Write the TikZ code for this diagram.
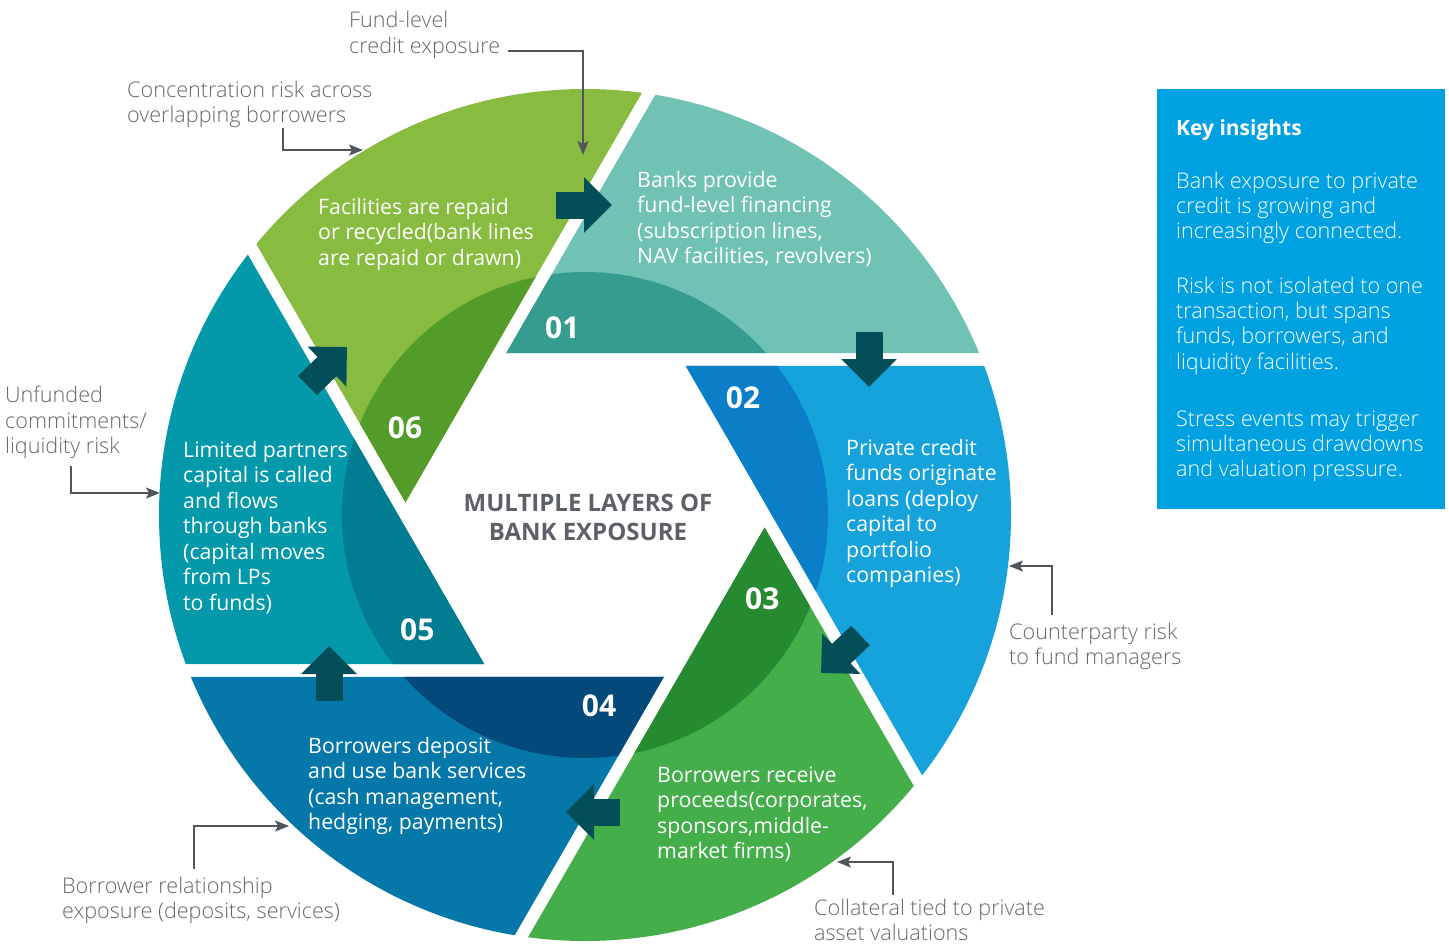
\documentclass[tikz,border=0pt]{standalone}
\usepackage{fontspec}
\setmainfont{Open Sans}
\newfontfamily\lightfont{Open Sans Light}
\usetikzlibrary{arrows.meta}

% segment palette (outer band / inner band)
\definecolor{segAout}{HTML}{70C2B4}\definecolor{segAin}{HTML}{369C90}
\definecolor{segBout}{HTML}{16A3DC}\definecolor{segBin}{HTML}{0A7FC7}
\definecolor{segCout}{HTML}{44AE4A}\definecolor{segCin}{HTML}{268A30}
\definecolor{segDout}{HTML}{0577A9}\definecolor{segDin}{HTML}{03497A}
\definecolor{segEout}{HTML}{0499AA}\definecolor{segEin}{HTML}{027C90}
\definecolor{segFout}{HTML}{88BC41}\definecolor{segFin}{HTML}{549C29}
\definecolor{flowdark}{HTML}{034E58}
\definecolor{titlegray}{HTML}{5D6167}
\definecolor{notegray}{HTML}{63676D}
\definecolor{linegray}{HTML}{50555C}
\definecolor{keyblue}{HTML}{00A1E0}

\begin{document}
\begin{tikzpicture}[x=1pt,y=-1pt,
  % multi-line nodes are placed by the baseline of their last line
  segtext/.style={anchor=base west,inner sep=0pt,align=left,text=white,
    font=\fontsize{21.3}{25.5}\selectfont},
  stepnum/.style={anchor=base west,inner sep=0pt,text=white,
    font=\fontsize{30}{30}\selectfont\bfseries},
  notetext/.style={anchor=base west,inner sep=0pt,align=left,text=notegray,
    font=\lightfont\fontsize{21.6}{25.3}\selectfont},
  keytext/.style={anchor=base west,inner sep=0pt,align=left,text=white,
    font=\lightfont\fontsize{21.6}{25.3}\selectfont},
  annot/.style={draw=linegray,line width=1.3pt,
    -{Stealth[length=14pt,width=11pt,inset=3pt]}},
  flow/.style={draw=flowdark,line width=27pt,
    -{Triangle[length=28pt,width=54pt]}},
]
\useasboundingbox (0,0) rectangle (1449,948);

% ring of six 60-degree wedges, each with a darker inner band
\begin{scope}[shift={(585,515)},yscale=-1]
  \clip (0,0) circle (426);
  \foreach \k/\outer/\inner in {0/segAout/segAin,1/segBout/segBin,2/segCout/segCin,
                                 3/segDout/segDin,4/segEout/segEin,5/segFout/segFin}{
    \pgfmathsetmacro\th{116-60*\k}
    \pgfmathsetmacro\be{-60*\k}
    \pgfmathsetmacro\ga{120-60*\k}
    \fill[\outer] (\th:180) -- ++(\be:900) -- ++(\ga:900) -- cycle;
    \begin{scope}
      \clip (0,0) circle (243);
      \fill[\inner] (\th:180) -- ++(\be:900) -- ++(\ga:900) -- cycle;
    \end{scope}
  }
\end{scope}

% flow arrows between the stages
\coordinate (fa1) at (556,205);     \coordinate (fb1) at (612,205);
\coordinate (fa2) at (869,332);     \coordinate (fb2) at (869,387);
\coordinate (fa3) at (860.5,635.5); \coordinate (fb3) at (821,673);
\coordinate (fa4) at (620,812);     \coordinate (fb4) at (566,812);
\coordinate (fa5) at (329,701);     \coordinate (fb5) at (329,646);
\coordinate (fa6) at (307.5,385.5); \coordinate (fb6) at (347,347);
\foreach \i in {1,...,6}{\draw[flow] (fa\i) -- (fb\i);}

% stage numbers
\node[stepnum] (n1) at (545,338) {01};
\node[stepnum] (n2) at (725.7,408.3) {02};
\node[stepnum] (n3) at (745,609.3) {03};
\node[stepnum] (n4) at (581.7,716.7) {04};
\node[stepnum] (n5) at (400,640) {05};
\node[stepnum] (n6) at (387.7,438.3) {06};

% stage descriptions
\node[segtext] (t1) at (637,263.5) {Banks provide\\fund-level financing\\(subscription lines,\\NAV facilities, revolvers)};
\node[segtext] (t2) at (846,582.5) {Private credit\\funds originate\\loans (deploy\\capital to\\portfolio\\companies)};
\node[segtext] (t3) at (657,858.5) {Borrowers receive\\proceeds(corporates,\\sponsors,middle-\\market firms)};
\node[segtext] (t4) at (308,829.5) {Borrowers deposit\\and use bank services\\(cash management,\\hedging, payments)};
\node[segtext] (t5) at (183,610) {Limited partners\\capital is called\\and flows\\through banks\\(capital moves\\from LPs\\to funds)};
\node[segtext] (t6) at (318,265) {Facilities are repaid\\or recycled(bank lines\\are repaid or drawn)};

% centre title
\node[anchor=base,inner sep=0pt,align=center,text=titlegray,
  font=\fontsize{24}{29}\selectfont\bfseries] (title) at (588,540.7)
  {MULTIPLE LAYERS OF\\BANK EXPOSURE};

% risk call-outs
\node[notetext] (nfund) at (349,53)    {Fund-level\\credit exposure};
\node[notetext] (nconc) at (127,122.8) {Concentration risk across\\overlapping borrowers};
\node[notetext] (nunf)  at (5,453.3)   {Unfunded\\commitments/\\liquidity risk};
\node[notetext] (ncpty) at (1009,664.6) {Counterparty risk\\to fund managers};
\node[notetext] (ncoll) at (814,940.3) {Collateral tied to private\\asset valuations};
\node[notetext] (nborr) at (62,918.6)  {Borrower relationship\\exposure (deposits, services)};

\coordinate (fund-s) at (508,51);  \coordinate (fund-e) at (583,155);
\coordinate (conc-s) at (283,128); \coordinate (conc-e) at (363,150);
\coordinate (unf-s)  at (71,466);  \coordinate (unf-e)  at (160,493);
\coordinate (cpty-s) at (1052,615);\coordinate (cpty-e) at (1009,566);
\coordinate (coll-s) at (893,895); \coordinate (coll-e) at (837,862);
\coordinate (borr-s) at (194,869); \coordinate (borr-e) at (289,826);
\draw[annot] (fund-s) -| (fund-e);
\draw[annot] (conc-s) |- (conc-e);
\draw[annot] (unf-s)  |- (unf-e);
\draw[annot] (cpty-s) |- (cpty-e);
\draw[annot] (coll-s) |- (coll-e);
\draw[annot] (borr-s) |- (borr-e);

% key insights panel
\fill[keyblue] (1157,89) rectangle (1445,509.3);
\node[anchor=base west,inner sep=0pt,text=white,
  font=\fontsize{21}{25}\selectfont\bfseries] (ktitle) at (1176,135) {Key insights};
\node[keytext] (k1) at (1176,238.9) {Bank exposure to private\\credit is growing and\\increasingly connected.};
\node[keytext] (k2) at (1176,369.2) {Risk is not isolated to one\\transaction, but spans\\funds, borrowers, and\\liquidity facilities.};
\node[keytext] (k3) at (1176,476.6) {Stress events may trigger\\simultaneous drawdowns\\and valuation pressure.};
\end{tikzpicture}
\end{document}
